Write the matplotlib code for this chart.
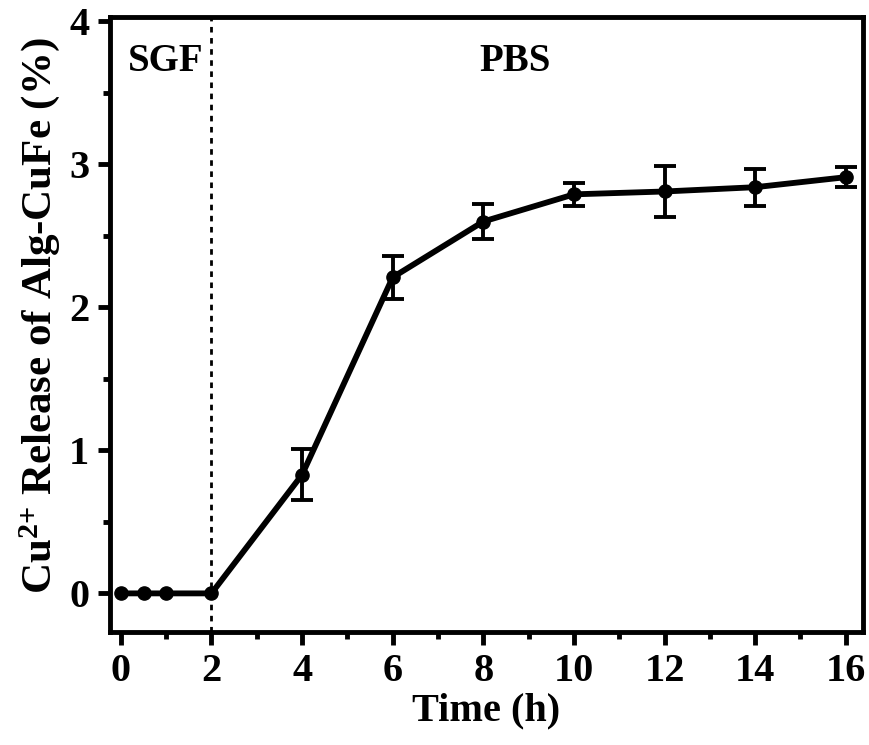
import numpy as np
import matplotlib
matplotlib.use('Agg')
import matplotlib.pyplot as plt
from matplotlib.ticker import MultipleLocator

# data
time_h = [0, 0.5, 1, 2, 4, 6, 8, 10, 12, 14, 16]
release = [0, 0, 0, 0, 0.83, 2.21, 2.60, 2.79, 2.81, 2.84, 2.91]
release_err = [0, 0, 0, 0, 0.18, 0.15, 0.12, 0.08, 0.18, 0.13, 0.07]
x_ticks = [0, 2, 4, 6, 8, 10, 12, 14, 16]
y_ticks = [0, 1, 2, 3, 4]

plt.rcParams['font.family'] = ['Liberation Serif', 'DejaVu Serif']
plt.rcParams['font.weight'] = 'bold'
plt.rcParams['mathtext.fontset'] = 'custom'
plt.rcParams['mathtext.rm'] = 'Liberation Serif:bold'
plt.rcParams['mathtext.bf'] = 'Liberation Serif:bold'
plt.rcParams['mathtext.it'] = 'Liberation Serif:bold'

fig = plt.figure(figsize=(8.69, 7.45), dpi=100)
ax = fig.add_axes([110 / 869, 1 - 632 / 745, 753 / 869, 615 / 745])

t = np.array(time_h)
r = np.array(release)
e = np.array(release_err)
has_err = e > 0

ax.plot(t, r, color='black', lw=4.2, marker='o', markersize=9.5)
ax.errorbar(t[has_err], r[has_err], yerr=e[has_err], fmt='none', ecolor='black',
            elinewidth=2.8, capsize=8, capthick=2.8)
ax.axvline(2, color='black', lw=2, linestyle=(0, (2, 2)))

ax.text(1.0, 3.72, 'SGF', ha='center', va='center', fontsize=28, fontweight='bold')
ax.text(8.7, 3.72, 'PBS', ha='center', va='center', fontsize=28, fontweight='bold')

ax.set_xlim(-0.24, 16.38)
ax.set_ylim(-0.27, 4.03)
ax.set_xticks(x_ticks)
ax.set_yticks(y_ticks)
ax.xaxis.set_minor_locator(MultipleLocator(1))
ax.yaxis.set_minor_locator(MultipleLocator(0.5))
ax.tick_params(which='major', direction='out', length=9, width=3.5, labelsize=29, pad=6)
ax.tick_params(which='minor', direction='out', length=5, width=3.5)
for lbl in ax.get_xticklabels() + ax.get_yticklabels():
    lbl.set_fontweight('bold')
for sp in ax.spines.values():
    sp.set_linewidth(3.5)

ax.set_xlabel('Time (h)', fontsize=29, fontweight='bold', labelpad=2)
ax.set_ylabel(r'Cu$^{2{+}}$ Release of Alg-CuFe (%)', fontsize=31, fontweight='bold')
ax.yaxis.set_label_coords(-0.064, 0.515)

fig.savefig('out.png', dpi=100)
